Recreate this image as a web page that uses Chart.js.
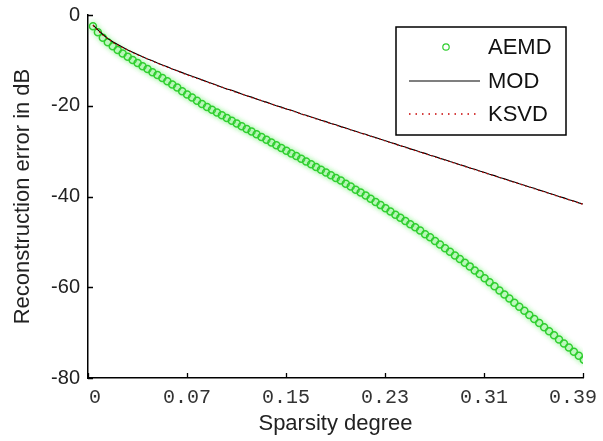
<!DOCTYPE html>
<html>
<head>
<meta charset="utf-8">
<script src="https://cdn.jsdelivr.net/npm/chart.js@4.4.1/dist/chart.umd.min.js"></script>
<style>
  html, body { margin: 0; padding: 0; background: #fff; }
  #wrap { width: 603px; height: 441px; }
</style>
</head>
<body>
<div id="wrap"><canvas id="err"></canvas></div>
<script>
var sparsity = [
  0.0039, 0.0078, 0.0117, 0.0156, 0.0195, 0.0234, 0.0273, 0.0313, 0.0352, 0.0391,
  0.0430, 0.0469, 0.0508, 0.0547, 0.0586, 0.0625, 0.0664, 0.0703, 0.0742, 0.0781,
  0.0820, 0.0859, 0.0898, 0.0938, 0.0977, 0.1016, 0.1055, 0.1094, 0.1133, 0.1172,
  0.1211, 0.1250, 0.1289, 0.1328, 0.1367, 0.1406, 0.1445, 0.1484, 0.1523, 0.1563,
  0.1602, 0.1641, 0.1680, 0.1719, 0.1758, 0.1797, 0.1836, 0.1875, 0.1914, 0.1953,
  0.1992, 0.2031, 0.2070, 0.2109, 0.2148, 0.2188, 0.2227, 0.2266, 0.2305, 0.2344,
  0.2383, 0.2422, 0.2461, 0.2500, 0.2539, 0.2578, 0.2617, 0.2656, 0.2695, 0.2734,
  0.2773, 0.2813, 0.2852, 0.2891, 0.2930, 0.2969, 0.3008, 0.3047, 0.3086, 0.3125,
  0.3164, 0.3203, 0.3242, 0.3281, 0.3320, 0.3359, 0.3398, 0.3438, 0.3477, 0.3516,
  0.3555, 0.3594, 0.3633, 0.3672, 0.3711, 0.3750, 0.3789, 0.3828, 0.3867, 0.3906
];

var aemd = [
  -2.5, -3.8, -5.0, -6.0, -6.9, -7.7, -8.5, -9.2, -9.9, -10.6,
  -11.3, -11.9, -12.6, -13.2, -13.9, -14.6, -15.3, -16.0, -16.8, -17.5,
  -18.2, -18.9, -19.6, -20.3, -20.9, -21.5, -22.1, -22.7, -23.3, -23.9,
  -24.5, -25.1, -25.7, -26.3, -26.9, -27.5, -28.1, -28.7, -29.3, -29.9,
  -30.5, -31.1, -31.7, -32.3, -32.9, -33.5, -34.1, -34.7, -35.3, -35.9,
  -36.5, -37.2, -37.8, -38.5, -39.1, -39.8, -40.5, -41.2, -41.9, -42.6,
  -43.3, -44.0, -44.7, -45.4, -46.1, -46.8, -47.5, -48.3, -49.0, -49.8,
  -50.6, -51.4, -52.2, -53.0, -53.8, -54.6, -55.4, -56.3, -57.1, -58.0,
  -58.9, -59.8, -60.7, -61.6, -62.5, -63.4, -64.3, -65.2, -66.1, -67.0,
  -67.9, -68.8, -69.7, -70.6, -71.5, -72.4, -73.3, -74.2, -75.1, -76.0
];

var mod = [
  -2.2, -3.3, -4.3, -5.2, -5.9, -6.5, -7.1, -7.7, -8.2, -8.7,
  -9.2, -9.7, -10.1, -10.6, -11.0, -11.4, -11.9, -12.3, -12.7, -13.1,
  -13.5, -13.9, -14.3, -14.7, -15.1, -15.5, -15.9, -16.3, -16.6, -17.0,
  -17.4, -17.8, -18.1, -18.5, -18.9, -19.2, -19.6, -20.0, -20.3, -20.7,
  -21.0, -21.4, -21.8, -22.1, -22.5, -22.8, -23.2, -23.5, -23.9, -24.2,
  -24.6, -24.9, -25.3, -25.6, -26.0, -26.3, -26.7, -27.0, -27.4, -27.7,
  -28.1, -28.4, -28.8, -29.1, -29.5, -29.8, -30.2, -30.5, -30.9, -31.2,
  -31.6, -31.9, -32.3, -32.6, -33.0, -33.3, -33.7, -34.0, -34.4, -34.7,
  -35.1, -35.4, -35.8, -36.1, -36.5, -36.8, -37.2, -37.5, -37.9, -38.2,
  -38.6, -38.9, -39.3, -39.6, -40.0, -40.3, -40.7, -41.0, -41.4, -41.7
];

var ksvd = [
  -2.3, -3.4, -4.4, -5.2, -6.0, -6.6, -7.2, -7.7, -8.3, -8.8,
  -9.2, -9.7, -10.2, -10.6, -11.1, -11.5, -11.9, -12.3, -12.8, -13.2,
  -13.6, -14.0, -14.3, -14.8, -15.1, -15.6, -15.9, -16.3, -16.7, -17.1,
  -17.4, -17.8, -18.2, -18.5, -18.9, -19.3, -19.6, -20.0, -20.4, -20.7,
  -21.1, -21.4, -21.8, -22.2, -22.5, -22.9, -23.2, -23.6, -23.9, -24.3,
  -24.6, -25.0, -25.3, -25.7, -26.0, -26.4, -26.7, -27.1, -27.4, -27.8,
  -28.1, -28.5, -28.8, -29.2, -29.5, -29.9, -30.2, -30.6, -30.9, -31.3,
  -31.6, -32.0, -32.3, -32.7, -33.0, -33.4, -33.7, -34.1, -34.4, -34.8,
  -35.1, -35.5, -35.8, -36.2, -36.5, -36.9, -37.2, -37.6, -37.9, -38.3,
  -38.6, -39.0, -39.3, -39.7, -40.0, -40.4, -40.7, -41.1, -41.4, -41.8
];

var xTickValues = [0, 0.078, 0.156, 0.234, 0.312, 0.39];
var xTickLabels = ['0', '0.07', '0.15', '0.23', '0.31', '0.39'];
var yTickValues = [0, -20, -40, -60, -80];

var green = 'rgb(45,205,45)';

function pts(ys){
  return ys.map(function(y, i){ return {x: sparsity[i], y: y}; });
}

// matlab style: tick marks point into the axes, x labels kept inside the figure
var inwardTicks = {
  id: 'inwardTicks',
  afterDraw: function(chart){
    var c = chart.ctx, a = chart.chartArea;
    var xs = chart.scales.x, ys = chart.scales.y;
    c.save();
    c.strokeStyle = '#000';
    c.lineWidth = 1.3;
    c.beginPath();
    xTickValues.forEach(function(v){
      var px = Math.round(xs.getPixelForValue(v)) + 0.5;
      c.moveTo(px, a.bottom); c.lineTo(px, a.bottom - 5);
    });
    yTickValues.forEach(function(v){
      var py = Math.round(ys.getPixelForValue(v)) + 0.5;
      c.moveTo(a.left, py); c.lineTo(a.left + 5, py);
    });
    c.stroke();

    c.fillStyle = '#333';
    c.font = '20px "Liberation Mono", monospace';
    c.textAlign = 'center';
    c.textBaseline = 'top';
    xTickValues.forEach(function(v, i){
      var txt = xTickLabels[i];
      var w = c.measureText(txt).width;
      var px = xs.getPixelForValue(v);
      px = Math.max(a.left + w / 2 + 1, Math.min(chart.width - 6 - w / 2, px));
      c.fillText(txt, px, a.bottom + 10);
    });
    c.restore();
  }
};

// green glow under the circle markers
var glow = {
  id: 'glow',
  beforeDatasetDraw: function(chart, args){
    if(args.index !== 0){return;}
    chart.ctx.save();
    chart.ctx.shadowColor = 'rgba(90,235,90,0.9)';
    chart.ctx.shadowBlur = 5;
  },
  afterDatasetDraw: function(chart, args){
    if(args.index !== 0){return;}
    chart.ctx.restore();
  }
};

// boxed legend in the upper right corner
var boxLegend = {
  id: 'boxLegend',
  afterDraw: function(chart){
    var c = chart.ctx;
    var bx = 396, by = 27, bw = 170, bh = 108;
    var rows = [47, 81, 114];
    var ds = chart.data.datasets;
    c.save();
    c.fillStyle = '#fff';
    c.fillRect(bx, by, bw, bh);
    c.strokeStyle = '#000';
    c.lineWidth = 1.5;
    c.strokeRect(bx, by, bw, bh);

    c.strokeStyle = green;
    c.lineWidth = 1.2;
    c.beginPath();
    c.arc(446, rows[0], 3.2, 0, Math.PI * 2);
    c.stroke();

    c.strokeStyle = '#000';
    c.lineWidth = 1.2;
    c.beginPath();
    c.moveTo(409, rows[1]); c.lineTo(480, rows[1]);
    c.stroke();

    c.strokeStyle = 'rgb(200,0,0)';
    c.lineWidth = 1.4;
    c.setLineDash([1.5, 5]);
    c.beginPath();
    c.moveTo(409, rows[2]); c.lineTo(480, rows[2]);
    c.stroke();
    c.setLineDash([]);

    c.fillStyle = '#111';
    c.font = '22px "Liberation Sans", Arial, sans-serif';
    c.textBaseline = 'middle';
    for(var i = 0; i < 3; i++){
      c.fillText(ds[i].label, 488, rows[i] + 1);
    }
    c.restore();
  }
};

var chart = new Chart(document.getElementById('err'), {
  type: 'scatter',
  data: {
    datasets: [{
      label: 'AEMD',
      data: pts(aemd),
      showLine: false,
      pointStyle: 'circle',
      pointRadius: 3.5,
      pointBorderWidth: 1.5,
      pointBorderColor: green,
      pointBackgroundColor: 'rgba(0,0,0,0)',
      order: 2
    }, {
      label: 'MOD',
      data: pts(mod),
      showLine: true,
      borderColor: '#000',
      borderWidth: 1.1,
      pointRadius: 0,
      order: 1
    }, {
      label: 'KSVD',
      data: pts(ksvd),
      showLine: true,
      borderColor: 'rgb(200,0,0)',
      borderWidth: 1.2,
      borderDash: [1.5, 3],
      pointRadius: 0,
      order: 0
    }]
  },
  plugins: [glow, inwardTicks, boxLegend],
  options: {
    responsive: true,
    maintainAspectRatio: false,
    animation: false,
    layout: { padding: { left: 0, top: 15, right: 20, bottom: 0 } },
    plugins: { legend: { display: false }, tooltip: { enabled: false } },
    scales: {
      x: {
        type: 'linear',
        min: 0,
        max: 0.39,
        afterFit: function(s){
          s.height = 63;
          s.paddingLeft = 0;
          s.paddingRight = 0;
        },
        afterBuildTicks: function(s){
          s.ticks = xTickValues.map(function(v){ return {value: v}; });
        },
        grid: { drawOnChartArea: false, drawTicks: false },
        border: { color: '#000', width: 1.5 },
        ticks: { display: false },
        title: {
          display: true,
          text: 'Sparsity degree',
          color: '#222',
          padding: { top: 0, bottom: 4 },
          font: { family: '"Liberation Sans", Arial, sans-serif', size: 22 }
        }
      },
      y: {
        min: -80,
        max: 0,
        afterFit: function(s){
          s.width = 88;
          s.paddingTop = 0;
          s.paddingBottom = 0;
        },
        afterBuildTicks: function(s){
          s.ticks = yTickValues.map(function(v){ return {value: v}; });
        },
        grid: { drawOnChartArea: false, drawTicks: false },
        border: { color: '#000', width: 1.5 },
        ticks: {
          padding: 8,
          color: '#222',
          font: { family: '"Liberation Sans", Arial, sans-serif', size: 20 }
        },
        title: {
          display: true,
          text: 'Reconstruction error in dB',
          color: '#222',
          padding: { top: 10, bottom: 0 },
          font: { family: '"Liberation Sans", Arial, sans-serif', size: 22 }
        }
      }
    }
  }
});
</script>
</body>
</html>
